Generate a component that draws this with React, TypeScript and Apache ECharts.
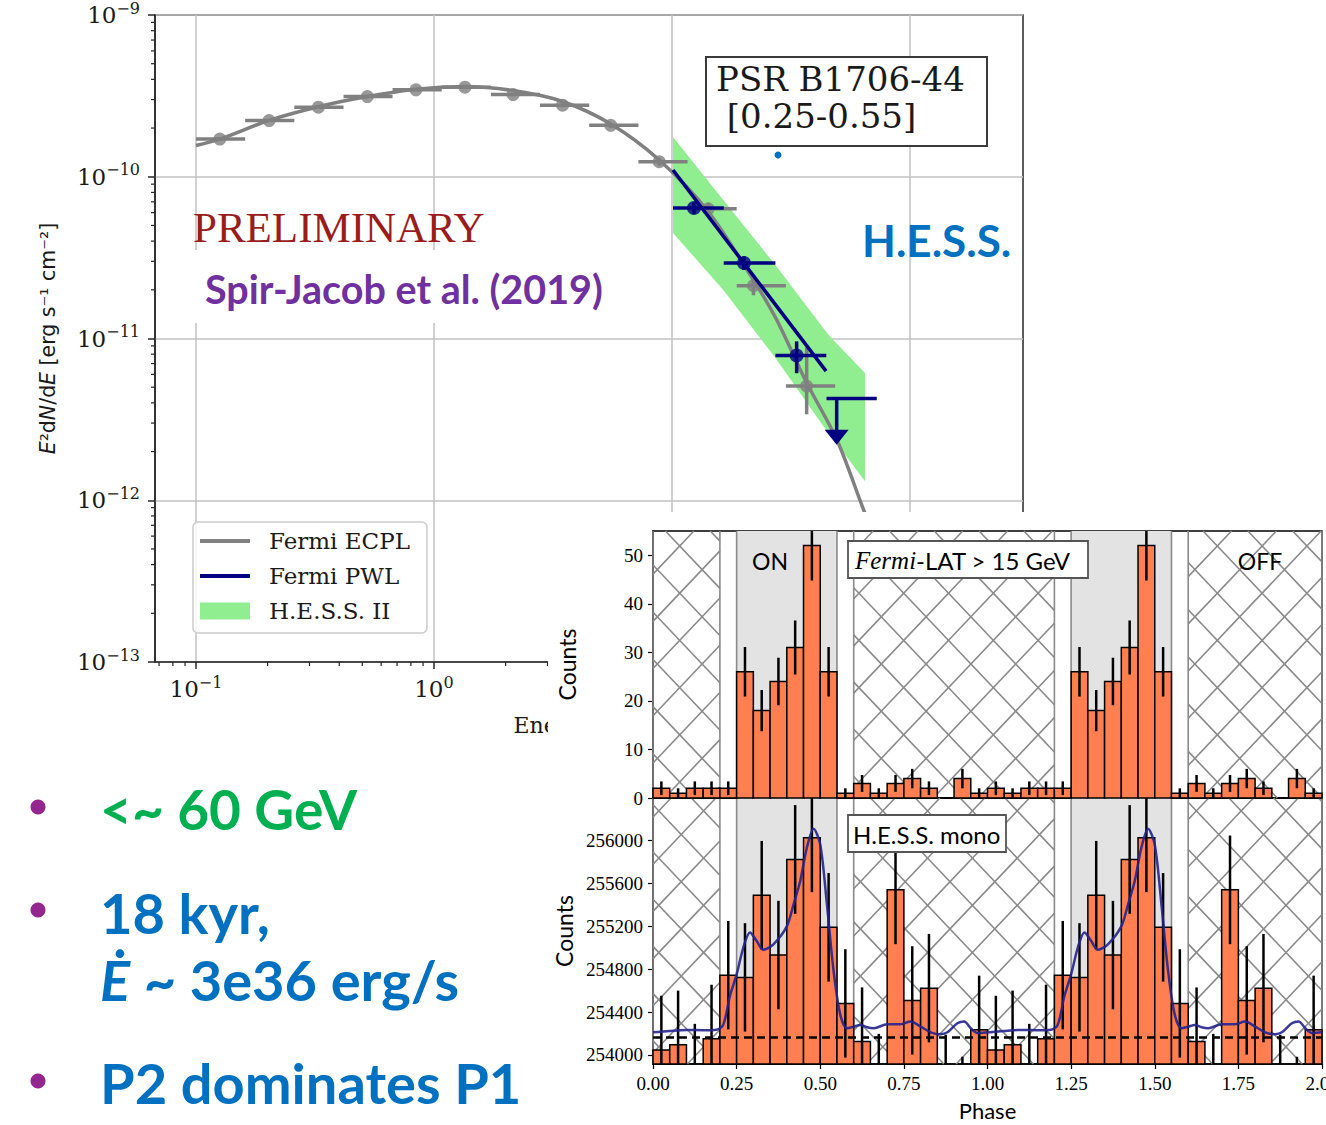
import React, { useEffect, useRef } from "react";
import * as echarts from "echarts";

// ================= SED panel data =================
const sedXMajor = [0.1, 1, 10, 100];
const sedYMajor = [1e-13, 1e-12, 1e-11, 1e-10, 1e-9];
const sedXMinorTicks = [0.07, 0.08, 0.09, 0.2, 0.3, 0.4, 0.5, 0.6, 0.7, 0.8, 0.9, 2, 3, 4, 5, 6, 7, 8, 9, 20, 30, 40, 50, 60, 70, 80, 90, 200];
const sedXMin = 0.0673;
const sedXMax = 298.4;

// Fermi ECPL model curve (GeV, erg s-1 cm-2)
const ecplCurveE = [0.1, 0.126, 0.203, 0.327, 0.525, 0.84, 1.35, 2.15, 3.47, 5.53, 8.84, 14.2, 22.0, 27.5, 36.8, 49.2, 63.7, 80];
const ecplCurveF = [1.56e-10, 1.71e-10, 2.23e-10, 2.71e-10, 3.13e-10, 3.48e-10, 3.61e-10, 3.41e-10, 2.92e-10, 2.12e-10, 1.27e-10, 6.1e-11, 2.3e-11, 1.31e-11, 5.32e-12, 2.38e-12, 8.8e-13, 3.7e-13];

// Fermi ECPL flux points
const ecplPtE = [0.126, 0.203, 0.327, 0.525, 0.84, 1.35, 2.15, 3.47, 5.53, 8.84, 14.2, 22.0, 36.8];
const ecplPtF = [1.71e-10, 2.225e-10, 2.69e-10, 3.13e-10, 3.45e-10, 3.58e-10, 3.22e-10, 2.77e-10, 2.08e-10, 1.24e-10, 6.33e-11, 2.12e-11, 5.08e-12];
const ecplBinEdges = [0.1, 0.161, 0.259, 0.417, 0.67, 1.078, 1.735, 2.79, 4.49, 7.23, 11.63, 18.7, 30.1, 48.5];
const ecplErrLo = [1.67e-10, 2.18e-10, 2.64e-10, 3.08e-10, 3.4e-10, 3.52e-10, 3.15e-10, 2.69e-10, 2.0e-10, 1.17e-10, 5.8e-11, 1.85e-11, 3.4e-12];
const ecplErrHi = [1.75e-10, 2.27e-10, 2.74e-10, 3.18e-10, 3.5e-10, 3.64e-10, 3.29e-10, 2.85e-10, 2.16e-10, 1.31e-10, 6.9e-11, 2.45e-11, 8.8e-12];

// Fermi PWL model and points
const pwlLineE = [10.1, 44.4];
const pwlLineF = [1.1e-10, 6.28e-12];
const pwlPtE = [12.37, 20.07, 33.4];
const pwlPtF = [6.41e-11, 2.93e-11, 7.85e-12];
const pwlBinEdges = [10.1, 16.5, 27.2, 44.5];
const pwlErrLo = [5.9e-11, 2.65e-11, 6.1e-12];
const pwlErrHi = [6.95e-11, 3.22e-11, 9.6e-12];
const pwlUlE = 49.2;
const pwlUlF = 4.26e-12;
const pwlUlBin = [44.6, 72.5];
const pwlUlTip = 2.2e-12;

// H.E.S.S. II butterfly
const bandE = [10.1, 16.4, 27.5, 43.2, 46.1, 64.7];
const bandHi = [1.76e-10, 7.2e-11, 2.79e-11, 1.16e-11, 1.03e-11, 6.13e-12];
const bandLo = [4.49e-11, 2.0e-11, 7.42e-12, 2.88e-12, 2.55e-12, 1.31e-12];

// ================= Phaseogram data =================
const binWidth = 0.05;
const fermiCountsPeriod = [2, 1, 2, 2, 2, 26, 18, 24, 31, 52, 26, 1, 3, 1, 3, 4, 2, 0, 4, 1];
const hessCountsPeriod = [254047, 254095, 253786, 254150, 254743, 254722, 255487, 254930, 255820, 256022, 255188, 254480, 254125, 253693, 255537, 254508, 254622, 253685, 253480, 254234];
const kdePhase = [0, 0.05, 0.1, 0.15, 0.19, 0.21, 0.23, 0.25, 0.27, 0.29, 0.31, 0.33, 0.36, 0.4, 0.42, 0.44, 0.46, 0.48, 0.5, 0.52, 0.54, 0.56, 0.58, 0.6, 0.62, 0.64, 0.66, 0.7, 0.74, 0.77, 0.8, 0.83, 0.86, 0.88, 0.91, 0.93, 0.95, 0.97];
const kdeVal = [254211, 254224, 254233, 254230, 254235, 254280, 254550, 254750, 255000, 255141, 255060, 254980, 255030, 255197, 255400, 255617, 255929, 256106, 255960, 255400, 254778, 254373, 254249, 254264, 254280, 254258, 254249, 254286, 254286, 254311, 254264, 254211, 254193, 254211, 254295, 254311, 254249, 254205];
const hessBackground = 254166;
const onRegions = [[0.25, 0.55], [1.25, 1.55]];
const hatchRegions = [[0, 0.2], [0.6, 1.2], [1.6, 2.0]];
const phaseTicks = [0, 0.25, 0.5, 0.75, 1, 1.25, 1.5, 1.75, 2];
const fermiYTicks = [0, 10, 20, 30, 40, 50];
const hessYTicks = [254000, 254400, 254800, 255200, 255600, 256000];

// ================= helpers =================
const expLabel = (v: number) => "{b|10}{s|" + String(Math.round(Math.log10(v))).replace("-", "−") + "}";
const expRich = {
  b: { fontFamily: "DejaVu Serif", fontSize: 23, color: "#1a1a1a", lineHeight: 30 },
  s: { fontFamily: "DejaVu Serif", fontSize: 16, color: "#1a1a1a", lineHeight: 16, verticalAlign: "top" },
};

function hatchSegments(x0: number, x1: number, y0: number, y1: number, ax: number, ay: number, W: number, H: number) {
  const segs: number[][] = [];
  for (const dir of [1, -1]) {
    const s = (dir * W) / H;
    const extra = Math.abs(s) * (Math.abs(y0 - ay) + Math.abs(y1 - ay)) + W;
    const kMin = Math.floor((x0 - extra - ax) / W);
    const kMax = Math.ceil((x1 + extra - ax) / W);
    for (let k = kMin; k <= kMax; k++) {
      const c = ax + k * W;
      const yA = ay + (x0 - c) / s;
      const yB = ay + (x1 - c) / s;
      const lo = Math.max(y0, Math.min(yA, yB));
      const hi = Math.min(y1, Math.max(yA, yB));
      if (hi - lo > 0.5) segs.push([c + s * (lo - ay), lo, c + s * (hi - ay), hi]);
    }
  }
  return segs;
}

// ================= SED option =================
function buildSed() {
  const axisColor = "#262626";
  const yMinor: number[] = [];
  for (let n = -13; n < -9; n++) for (let k = 2; k <= 9; k++) yMinor.push(k * Math.pow(10, n));

  const errRender = (color: string) => (params: any, api: any) => {
    const x = api.value(0), y = api.value(1);
    const a = api.coord([api.value(2), y]);
    const b = api.coord([api.value(3), y]);
    const c = api.coord([x, api.value(4)]);
    const d = api.coord([x, api.value(5)]);
    return {
      type: "group",
      children: [
        { type: "line", shape: { x1: a[0], y1: a[1], x2: b[0], y2: b[1] }, style: { stroke: color, lineWidth: 3.5 } },
        { type: "line", shape: { x1: c[0], y1: c[1], x2: d[0], y2: d[1] }, style: { stroke: color, lineWidth: 3.5 } },
      ],
    };
  };

  const lineIcon = "path://M0,0H50V4H0Z";

  return {
    animation: false,
    backgroundColor: "#ffffff",
    grid: { left: 155, top: 15, width: 868, height: 647, show: true, borderColor: axisColor, borderWidth: 1.5, outerBoundsMode: "none" },
    xAxis: {
      type: "log",
      logBase: 10,
      min: sedXMin,
      max: sedXMax,
      axisLine: { show: true, lineStyle: { color: axisColor, width: 1.5 } },
      axisTick: { show: true, length: 7, customValues: sedXMajor, lineStyle: { color: axisColor, width: 1.5 } },
      axisLabel: { customValues: sedXMajor, formatter: expLabel, rich: expRich, margin: 12 },
      splitLine: { show: true, lineStyle: { color: "#c2c2c2", width: 1.5 } },
      name: "Energy [GeV]",
      nameLocation: "middle",
      nameGap: 52,
      nameTextStyle: { fontFamily: "DejaVu Serif", fontSize: 22, color: "#1a1a1a" },
    },
    yAxis: {
      type: "log",
      logBase: 10,
      min: 1e-13,
      max: 1e-9,
      axisLine: { show: true, lineStyle: { color: axisColor, width: 1.5 } },
      axisTick: { show: true, length: 7, customValues: sedYMajor, lineStyle: { color: axisColor, width: 1.5 } },
      axisLabel: { customValues: sedYMajor, formatter: expLabel, rich: expRich, margin: 15 },
      splitLine: { show: true, lineStyle: { color: "#c2c2c2", width: 1.5 } },
      name: "{i|E}²d{i|N}/d{i|E} [erg s⁻¹ cm⁻²]",
      nameLocation: "middle",
      nameRotate: 90,
      nameGap: 97,
      nameTextStyle: {
        fontFamily: "DejaVu Sans",
        fontSize: 20.5,
        color: "#1a1a1a",
        rich: { i: { fontFamily: "DejaVu Sans", fontStyle: "italic", fontSize: 20.5, color: "#1a1a1a" } },
      },
    },
    legend: {
      orient: "vertical",
      left: 193,
      top: 522,
      padding: [7, 17, 10, 7],
      itemWidth: 50,
      itemHeight: 17,
      itemGap: 11,
      borderColor: "#cccccc",
      borderWidth: 1.5,
      borderRadius: 5,
      backgroundColor: "rgba(255,255,255,0.85)",
      textStyle: { fontFamily: "DejaVu Serif", fontSize: 23, color: "#1a1a1a", padding: [0, 0, 0, 14], lineHeight: 24 },
      data: [
        { name: "Fermi ECPL", icon: lineIcon },
        { name: "Fermi PWL", icon: lineIcon },
        { name: "H.E.S.S. II", icon: "rect" },
      ],
    },
    graphic: [
      { type: "rect", shape: { x: 185, y: 250, width: 430, height: 73 }, style: { fill: "#ffffff" }, z: 50 },
      { type: "text", x: 193, y: 227, z: 60, style: { text: "PRELIMINARY", fill: "#9a1c1c", fontFamily: "Liberation Serif", fontSize: 43, verticalAlign: "middle" } },
      { type: "text", x: 205, y: 288, z: 60, style: { text: "Spir-Jacob et al. (2019)", fill: "#7030a0", fontFamily: "Lato", fontWeight: "bold", fontSize: 39.5, verticalAlign: "middle" } },
      { type: "text", x: 862, y: 240, z: 60, style: { text: "H.E.S.S.", fill: "#0070c0", fontFamily: "Lato", fontWeight: "bold", fontSize: 44, verticalAlign: "middle" } },
      { type: "rect", shape: { x: 706, y: 57, width: 281, height: 89 }, style: { fill: "#ffffff", stroke: "#3a3a3a", lineWidth: 2 }, z: 50 },
      { type: "text", x: 716, y: 79, z: 60, style: { text: "PSR B1706-44", fill: "#1a1a1a", fontFamily: "DejaVu Serif", fontSize: 34, verticalAlign: "middle" } },
      { type: "text", x: 716, y: 116, z: 60, style: { text: " [0.25-0.55]", fill: "#1a1a1a", fontFamily: "DejaVu Serif", fontSize: 34, verticalAlign: "middle" } },
      { type: "circle", shape: { cx: 778, cy: 155, r: 3.5 }, style: { fill: "#0070c0" }, z: 60 },
      // bullets
      { type: "circle", shape: { cx: 38, cy: 807, r: 7.5 }, style: { fill: "#93278f" }, z: 60 },
      { type: "circle", shape: { cx: 38, cy: 910, r: 7.5 }, style: { fill: "#93278f" }, z: 60 },
      { type: "circle", shape: { cx: 38, cy: 1081, r: 7.5 }, style: { fill: "#93278f" }, z: 60 },
      { type: "text", x: 100, y: 809, z: 60, style: { text: "<~ 60 GeV", fill: "#00b050", fontFamily: "Lato", fontWeight: "bold", fontSize: 55, verticalAlign: "middle" } },
      { type: "text", x: 100, y: 912, z: 60, style: { text: "18 kyr,", fill: "#0070c0", fontFamily: "Lato", fontWeight: "bold", fontSize: 56, verticalAlign: "middle" } },
      {
        type: "text", x: 100, y: 979, z: 60,
        style: {
          text: "{i|Ė} ~ 3e36 erg/s",
          fill: "#0070c0", fontFamily: "Lato", fontWeight: "bold", fontSize: 56, verticalAlign: "middle",
          rich: { i: { fill: "#0070c0", fontFamily: "Lato", fontWeight: "bold", fontStyle: "italic", fontSize: 56 } },
        },
      },
      { type: "text", x: 100, y: 1082, z: 60, style: { text: "P2 dominates P1", fill: "#0070c0", fontFamily: "Lato", fontWeight: "bold", fontSize: 56, verticalAlign: "middle" } },
    ],
    series: [
      {
        name: "H.E.S.S. II",
        type: "custom",
        z: 1,
        itemStyle: { color: "#90ee90" },
        encode: { x: 0, y: 1 },
        data: [[bandE[0], bandHi[0]]],
        renderItem: (params: any, api: any) => {
          const pts: number[][] = [];
          for (let i = 0; i < bandE.length; i++) pts.push(api.coord([bandE[i], bandHi[i]]));
          for (let i = bandE.length - 1; i >= 0; i--) pts.push(api.coord([bandE[i], bandLo[i]]));
          return { type: "polygon", shape: { points: pts }, style: { fill: "#90ee90" } };
        },
      },
      {
        name: "Fermi ECPL",
        type: "line",
        z: 2,
        smooth: 0.3,
        symbol: "none",
        itemStyle: { color: "#808080" },
        lineStyle: { color: "#808080", width: 3.5 },
        data: ecplCurveE.map((e, i) => [e, ecplCurveF[i]]),
      },
      {
        name: "ECPL errors",
        type: "custom",
        z: 3,
        encode: { x: 0, y: 1 },
        data: ecplPtE.map((e, i) => [e, ecplPtF[i], ecplBinEdges[i], ecplBinEdges[i + 1], ecplErrLo[i], ecplErrHi[i]]),
        renderItem: errRender("#808080"),
      },
      {
        name: "ECPL points",
        type: "scatter",
        z: 3,
        symbolSize: 13,
        itemStyle: { color: "#808080" },
        data: ecplPtE.map((e, i) => [e, ecplPtF[i]]),
      },
      {
        name: "Fermi PWL",
        type: "line",
        z: 4,
        symbol: "none",
        itemStyle: { color: "#000080" },
        lineStyle: { color: "#000080", width: 3.5 },
        data: pwlLineE.map((e, i) => [e, pwlLineF[i]]),
      },
      {
        name: "PWL errors",
        type: "custom",
        z: 5,
        encode: { x: 0, y: 1 },
        data: pwlPtE.map((e, i) => [e, pwlPtF[i], pwlBinEdges[i], pwlBinEdges[i + 1], pwlErrLo[i], pwlErrHi[i]]),
        renderItem: errRender("#000080"),
      },
      {
        name: "PWL points",
        type: "scatter",
        z: 5,
        symbolSize: 14,
        itemStyle: { color: "#000080" },
        data: pwlPtE.map((e, i) => [e, pwlPtF[i]]),
      },
      {
        name: "PWL upper limit",
        type: "custom",
        z: 5,
        encode: { x: 0, y: 1 },
        data: [[pwlUlE, pwlUlF, pwlUlBin[0], pwlUlBin[1], pwlUlTip]],
        renderItem: (params: any, api: any) => {
          const a = api.coord([api.value(2), api.value(1)]);
          const b = api.coord([api.value(3), api.value(1)]);
          const c = api.coord([api.value(0), api.value(1)]);
          const t = api.coord([api.value(0), api.value(4)]);
          return {
            type: "group",
            children: [
              { type: "line", shape: { x1: a[0], y1: a[1], x2: b[0], y2: b[1] }, style: { stroke: "#000080", lineWidth: 3.5 } },
              { type: "line", shape: { x1: c[0], y1: c[1], x2: t[0], y2: t[1] - 12 }, style: { stroke: "#000080", lineWidth: 3.5 } },
              { type: "polygon", shape: { points: [[t[0] - 12, t[1] - 15], [t[0] + 12, t[1] - 15], [t[0], t[1]]] }, style: { fill: "#000080" } },
            ],
          };
        },
      },
      {
        name: "x minor ticks",
        type: "custom",
        z: 6,
        encode: { x: 0, y: 1 },
        data: sedXMinorTicks.map((v) => [v, 1e-13]),
        renderItem: (params: any, api: any) => {
          const p = api.coord([api.value(0), api.value(1)]);
          return { type: "line", shape: { x1: p[0], y1: p[1], x2: p[0], y2: p[1] + 4 }, style: { stroke: axisColor, lineWidth: 1.2 } };
        },
      },
      {
        name: "y minor ticks",
        type: "custom",
        z: 6,
        encode: { x: 0, y: 1 },
        data: yMinor.map((v) => [sedXMin, v]),
        renderItem: (params: any, api: any) => {
          const p = api.coord([api.value(0), api.value(1)]);
          return { type: "line", shape: { x1: p[0] - 4, y1: p[1], x2: p[0], y2: p[1] }, style: { stroke: axisColor, lineWidth: 1.2 } };
        },
      },
    ],
  };
}

// ================= Phaseogram option =================
function buildPhaso() {
  const nBins = fermiCountsPeriod.length * 2;
  const fermiData: number[][] = [];
  const hessData: number[][] = [];
  for (let i = 0; i < nBins; i++) {
    const j = i % fermiCountsPeriod.length;
    fermiData.push([i * binWidth, fermiCountsPeriod[j]]);
    hessData.push([i * binWidth, hessCountsPeriod[j]]);
  }
  const kdeData: number[][] = [];
  for (let p = 0; p < 2; p++) kdePhase.forEach((ph, i) => kdeData.push([ph + p, kdeVal[i]]));
  kdeData.push([2, kdeVal[0]]);

  const regionsFor = (yMid: number) => [
    ...onRegions.map((r) => [r[0], r[1], 0, yMid]),
    ...hatchRegions.map((r) => [r[0], r[1], 1, yMid]),
  ];

  const regionRender = (ax: number, ay: number) => (params: any, api: any) => {
    const cs = params.coordSys;
    const x0 = api.coord([api.value(0), api.value(3)])[0];
    const x1 = api.coord([api.value(1), api.value(3)])[0];
    const y0 = cs.y, y1 = cs.y + cs.height;
    const children: any[] = [];
    if (api.value(2) === 0) {
      children.push({ type: "rect", shape: { x: x0, y: y0, width: x1 - x0, height: y1 - y0 }, style: { fill: "#e3e3e3" } });
    } else {
      hatchSegments(x0, x1, y0, y1, ax, ay, 44.8, 47.2).forEach((s) =>
        children.push({ type: "line", shape: { x1: s[0], y1: s[1], x2: s[2], y2: s[3] }, style: { stroke: "#8a8a8a", lineWidth: 1.6 } })
      );
    }
    children.push({ type: "line", shape: { x1: x0, y1: y0, x2: x0, y2: y1 }, style: { stroke: "#8a8a8a", lineWidth: 1.6 } });
    children.push({ type: "line", shape: { x1: x1, y1: y0, x2: x1, y2: y1 }, style: { stroke: "#8a8a8a", lineWidth: 1.6 } });
    return { type: "group", children };
  };

  const barRender = (params: any, api: any) => {
    const cs = params.coordSys;
    const yBase = cs.y + cs.height;
    const pL = api.coord([api.value(0), api.value(1)]);
    const pR = api.coord([api.value(0) + binWidth, api.value(1)]);
    const top = Math.max(pL[1], cs.y);
    if (top >= yBase - 0.01) return null;
    return { type: "rect", shape: { x: pL[0], y: top, width: pR[0] - pL[0], height: yBase - top }, style: { fill: "#ff7f50", stroke: "#000000", lineWidth: 1.5 } };
  };

  const errRender = (params: any, api: any) => {
    const cs = params.coordSys;
    const v = api.value(1);
    const e = Math.sqrt(v);
    const xc = api.value(0) + binWidth / 2;
    const pT = api.coord([xc, v + e]);
    const pB = api.coord([xc, v - e]);
    const yt = Math.max(pT[1], cs.y);
    const yb = Math.min(pB[1], cs.y + cs.height);
    if (yb - yt < 0.5) return null;
    return { type: "line", shape: { x1: pT[0], y1: yt, x2: pT[0], y2: yb }, style: { stroke: "#000000", lineWidth: 2.5 } };
  };

  const serifLabel = { fontFamily: "Liberation Serif", fontSize: 19, color: "#000000" };
  const nameStyle = { fontFamily: "Lato", fontSize: 23, color: "#000000" };
  const frame = { lineStyle: { color: "#000000", width: 1.5 } };

  return {
    animation: false,
    backgroundColor: "#ffffff",
    grid: [
      { left: 105, top: 19, width: 669, height: 267, show: true, borderColor: "#000000", borderWidth: 1.5, outerBoundsMode: "none", containLabel: false },
      { left: 105, top: 286, width: 669, height: 266, show: true, borderColor: "#000000", borderWidth: 1.5, outerBoundsMode: "none", containLabel: false },
    ],
    xAxis: [
      { gridIndex: 0, type: "value", min: 0, max: 2, axisLine: frame, axisTick: { show: false }, axisLabel: { show: false }, splitLine: { show: false } },
      {
        gridIndex: 1, type: "value", min: 0, max: 2,
        axisLine: frame,
        axisTick: { show: true, length: 5, customValues: phaseTicks, lineStyle: { color: "#000", width: 1.2 } },
        axisLabel: { ...serifLabel, customValues: phaseTicks, margin: 10, formatter: (v: number) => v.toFixed(2) },
        splitLine: { show: false },
        name: "Phase", nameLocation: "middle", nameGap: 35, nameTextStyle: { fontFamily: "Lato", fontSize: 22, color: "#000000" },
      },
    ],
    yAxis: [
      {
        gridIndex: 0, type: "value", min: 0, max: 55,
        axisLine: frame,
        axisTick: { show: true, length: 5, customValues: fermiYTicks, lineStyle: { color: "#000", width: 1.2 } },
        axisLabel: { ...serifLabel, customValues: fermiYTicks, margin: 10 },
        splitLine: { show: false },
        name: "Counts", nameLocation: "middle", nameRotate: 90, nameGap: 75, nameTextStyle: nameStyle,
      },
      {
        gridIndex: 1, type: "value", min: 253916, max: 256392,
        axisLine: frame,
        axisTick: { show: true, length: 5, customValues: hessYTicks, lineStyle: { color: "#000", width: 1.2 } },
        axisLabel: { ...serifLabel, customValues: hessYTicks, margin: 10, formatter: (v: number) => String(v) },
        splitLine: { show: false },
        name: "Counts", nameLocation: "middle", nameRotate: 90, nameGap: 75, nameTextStyle: nameStyle,
      },
    ],
    graphic: [
      { type: "rect", shape: { x: 300, y: 29, width: 240, height: 37 }, style: { fill: "#ffffff", stroke: "#555555", lineWidth: 1.8 }, z: 100 },
      {
        type: "text", x: 307, y: 48, z: 101,
        style: {
          text: "{it|Fermi}{s|-LAT > 15 GeV}",
          verticalAlign: "middle",
          rich: {
            it: { fill: "#000000", fontFamily: "Liberation Serif", fontStyle: "italic", fontSize: 25 },
            s: { fill: "#000000", fontFamily: "Lato", fontSize: 24 },
          },
        },
      },
      { type: "text", x: 222, y: 49, z: 101, style: { text: "ON", fill: "#000000", fontFamily: "Lato", fontSize: 23, align: "center", verticalAlign: "middle" } },
      { type: "text", x: 712, y: 49, z: 101, style: { text: "OFF", fill: "#000000", fontFamily: "Lato", fontSize: 23, align: "center", verticalAlign: "middle" } },
      { type: "rect", shape: { x: 300, y: 303, width: 158, height: 37 }, style: { fill: "#ffffff", stroke: "#555555", lineWidth: 1.8 }, z: 100 },
      { type: "text", x: 305, y: 322, z: 101, style: { text: "H.E.S.S. mono", fill: "#000000", fontFamily: "Lato", fontSize: 24, verticalAlign: "middle" } },
    ],
    series: [
      { name: "Fermi regions", type: "custom", xAxisIndex: 0, yAxisIndex: 0, z: 1, encode: { x: [0, 1], y: 3 }, data: regionsFor(20), renderItem: regionRender(131.7, 34) },
      { name: "Fermi counts", type: "custom", xAxisIndex: 0, yAxisIndex: 0, z: 2, encode: { x: 0, y: 1 }, data: fermiData, renderItem: barRender },
      { name: "Fermi errors", type: "custom", xAxisIndex: 0, yAxisIndex: 0, z: 3, encode: { x: 0, y: 1 }, data: fermiData, renderItem: errRender },
      { name: "HESS regions", type: "custom", xAxisIndex: 1, yAxisIndex: 1, z: 1, encode: { x: [0, 1], y: 3 }, data: regionsFor(255000), renderItem: regionRender(402, 369.7) },
      { name: "HESS counts", type: "custom", xAxisIndex: 1, yAxisIndex: 1, z: 2, encode: { x: 0, y: 1 }, data: hessData, renderItem: barRender },
      { name: "HESS errors", type: "custom", xAxisIndex: 1, yAxisIndex: 1, z: 3, encode: { x: 0, y: 1 }, data: hessData, renderItem: errRender },
      {
        name: "HESS KDE",
        type: "line",
        xAxisIndex: 1,
        yAxisIndex: 1,
        z: 4,
        smooth: 0.3,
        symbol: "none",
        clip: true,
        lineStyle: { color: "#23238e", width: 2.5, opacity: 0.9 },
        data: kdeData,
        markLine: {
          silent: true,
          symbol: ["none", "none"],
          label: { show: false },
          lineStyle: { color: "#000000", width: 2.5, type: [8, 5] },
          data: [{ yAxis: hessBackground }],
        },
      },
    ],
  };
}

export default function App() {
  const aRef = useRef<HTMLDivElement>(null);
  const bRef = useRef<HTMLDivElement>(null);
  useEffect(() => {
    const a = echarts.init(aRef.current as HTMLDivElement, null, { renderer: "svg" });
    a.setOption(buildSed() as any);
    const b = echarts.init(bRef.current as HTMLDivElement, null, { renderer: "svg" });
    b.setOption(buildPhaso() as any);
    return () => {
      a.dispose();
      b.dispose();
    };
  }, []);
  return (
    <div style={{ position: "absolute", left: 0, top: 0, width: 1326, height: 1125, background: "#ffffff", overflow: "hidden" }}>
      <div ref={aRef} style={{ position: "absolute", left: 0, top: 0, width: 1326, height: 1125 }} />
      <div ref={bRef} style={{ position: "absolute", left: 548, top: 512, width: 778, height: 613, background: "#ffffff" }} />
    </div>
  );
}
